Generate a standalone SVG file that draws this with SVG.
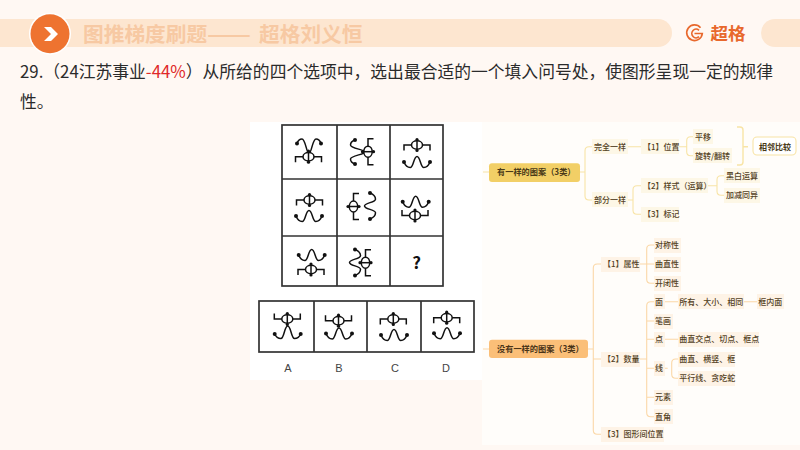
<svg xmlns="http://www.w3.org/2000/svg" xmlns:xlink="http://www.w3.org/1999/xlink" width="800" height="450" viewBox="0 0 800 450">
<style>
text{font-family:"Noto Sans CJK SC","Noto Sans",sans-serif}
.q{font-size:16.8px;fill:#2b2b2b}
.t{font-size:8px;fill:#54421f;font-weight:500}
.y{fill:#fdf7e6}
.o{fill:#fef3e6}
.cy{fill:none;stroke:#f8e4a6;stroke-width:1.1}
.co{fill:none;stroke:#fbd8a8;stroke-width:1.1}
.grid{fill:#fff;stroke:#333;stroke-width:1.7}
.m{fill:none;stroke:#111;stroke-width:1.5}
.d{fill:#111}
.lab{font-family:"Liberation Sans",sans-serif;font-size:11px;fill:#444;text-anchor:middle}
</style>
<defs>
<g id="bracket"><path class="m" d="M-13,5.5V0H13V5.5"/><ellipse cx="0" cy="0" rx="5.5" ry="4.2" fill="#fff" stroke="#111" stroke-width="1.5"/><path class="m" d="M0,-5.5V5.5"/><circle class="d" cx="0" cy="-5.5" r="1.6"/><circle class="d" cx="0" cy="5.5" r="1.6"/></g>
<g id="wave"><path class="m" d="M-13,0C-11.5,3.8-9.5,5.5-6.8,5.5C-3.4,5.5-3.4,-5.5 0,-5.5C3.4,-5.5 3.4,5.5 6.8,5.5C9.5,5.5 11.5,3.8 13,0"/><circle class="d" cx="-13" cy="0" r="2"/><circle class="d" cx="13" cy="0" r="2"/></g>
<g id="wavex"><path class="m" d="M-12,0C-11,-3-9,-4.5-7,-4.5C-3.5,-4.5-2.5,10 0,10C2.5,10 3.5,-4.5 7,-4.5C9,-4.5 11,-3 12,0"/><circle class="d" cx="-12" cy="0" r="2"/><circle class="d" cx="12" cy="0" r="2"/></g>
<g id="wavetall"><path class="m" d="M-13,0C-11.5,3.5-9.5,4.5-6.8,4.5C-3.4,4.5-3.4,-8 0,-8C3.4,-8 3.4,4.5 6.8,4.5C9.5,4.5 11.5,3.5 13,0"/><circle class="d" cx="-13" cy="0" r="2"/><circle class="d" cx="13" cy="0" r="2"/></g>
</defs>
<rect width="800" height="450" fill="#fff8f3"/>

<g id="header">
<path d="M0,19H658a14,14 0 0 1 0,28H0Z" fill="#fde6d0"/>
<path d="M800,19H775a14,14 0 0 0 0,28H800Z" fill="#fde6d0"/>
<circle cx="50" cy="33.7" r="21" fill="#fff"/>
<circle cx="50" cy="33.7" r="19.5" fill="#ee7330"/>
<path d="M44,27H51L58,34L51,41H44L51,34Z" fill="#fff"/>
<text x="83" y="42" font-size="20.7" font-weight="700" fill="#f7c9a3">图推梯度刷题</text>
<text x="207" y="42" font-size="20.7" font-weight="700" fill="#f7c9a3" textLength="44" lengthAdjust="spacingAndGlyphs">——</text>
<text x="259" y="42" font-size="20.7" font-weight="700" fill="#f7c9a3">超格刘义恒</text>
</g>
<g id="logo">
<path d="M700.5,27.7A7.8,7.8 0 1 0 702.3,33.5H694.5M699,30.3A4.3,4.3 0 1 0 699,36.7" fill="none" stroke="#e8682c" stroke-width="1.7"/>
<text x="710.5" y="40" font-size="17.5" font-weight="700" fill="#e8682c">超格</text>
</g>
<g id="question">
<text class="q" x="20" y="78">29.（24江苏事业<tspan fill="#e02828">-44%</tspan>）从所给的四个选项中，选出最合适的一个填入问号处，使图形呈现一定的规律</text>
<text class="q" x="20" y="108">性。</text>
</g>

<rect x="250" y="122" width="232" height="258" fill="#fff"/>
<rect x="482" y="122" width="318" height="323" fill="#fffdfa"/>

<g id="matrix">
<rect class="grid" x="282" y="125" width="161" height="161"/>
<path class="grid" d="M337,125V286M390,125V286M282,179H443M282,236H443"/>
<g id="m1"><use xlink:href="#wavex" href="#wavex" transform="translate(309,143.5)"/><use href="#bracket" xlink:href="#bracket" transform="translate(308.5,156.7)"/></g>
<g id="m2"><use href="#wavex" xlink:href="#wavex" transform="translate(355,152) rotate(-90)"/><use href="#bracket" xlink:href="#bracket" transform="translate(368,151.7) rotate(-90)"/></g>
<g id="m3"><use href="#bracket" xlink:href="#bracket" transform="translate(417,145)"/><use href="#wave" xlink:href="#wave" transform="translate(417,162)"/></g>
<g id="m4"><use href="#bracket" xlink:href="#bracket" transform="translate(309.5,200)"/><use href="#wave" xlink:href="#wave" transform="translate(309,216)"/></g>
<g id="m5"><use href="#bracket" xlink:href="#bracket" transform="translate(353.5,206.5) rotate(-90)"/><use href="#wave" xlink:href="#wave" transform="translate(370,206) rotate(-90)"/></g>
<g id="m6"><use href="#wave" xlink:href="#wave" transform="translate(415.7,201.7)"/><use href="#bracket" xlink:href="#bracket" transform="translate(415,215.5) rotate(180)"/></g>
<g id="m7"><use href="#wave" xlink:href="#wave" transform="translate(311.7,255)"/><use href="#bracket" xlink:href="#bracket" transform="translate(311,269.5)"/></g>
<g id="m8"><use href="#wave" xlink:href="#wave" transform="translate(355,262.5) rotate(-90)"/><use href="#bracket" xlink:href="#bracket" transform="translate(365.5,262.7) rotate(-90)"/></g>
<text x="416.7" y="269" font-family="Liberation Sans" font-size="17" font-weight="700" fill="#111" text-anchor="middle">?</text>
</g>

<g id="options">
<rect class="grid" x="259" y="301" width="215" height="51"/>
<path class="grid" d="M314,301V352M367,301V352M421,301V352"/>
<g id="optA"><use href="#wavetall" xlink:href="#wavetall" transform="translate(287.7,334)"/><use href="#bracket" xlink:href="#bracket" transform="translate(287.3,319) rotate(180)"/></g>
<g id="optB"><use href="#bracket" xlink:href="#bracket" transform="translate(338.5,320.7) rotate(180)"/><use href="#wave" xlink:href="#wave" transform="translate(339,333.5)"/></g>
<g id="optC"><use href="#bracket" xlink:href="#bracket" transform="translate(393.3,319)"/><use href="#wave" xlink:href="#wave" transform="translate(394,335)"/></g>
<g id="optD"><use href="#bracket" xlink:href="#bracket" transform="translate(446.7,317.7)"/><use href="#wave" xlink:href="#wave" transform="translate(447,333.3)"/></g>
<text class="lab" x="288" y="372">A</text><text class="lab" x="339" y="372">B</text><text class="lab" x="395" y="372">C</text><text class="lab" x="446" y="372">D</text>
</g>

<g id="connectors">
<path class="cy" d="M483,172H489M580,172H585M594,146.7H589Q585,146.7 585,150.7V196Q585,200 589,200H594M627,146.7H643M627,200H633M643,185.7H637Q633,185.7 633,189.7V210.3Q633,214.3 637,214.3H643M679,146.7H686.7M695,136.7H690.7Q686.7,136.7 686.7,140.7V151.7Q686.7,155.7 690.7,155.7H695M708,185.7H717M726,175.7H721Q717,175.7 717,179.7V191.3Q717,195.3 721,195.3H726"/>
<path class="cy" style="stroke-width:1.4" d="M737,127H740Q743,127 743,130V162Q743,165 740,165H737M743,146.7H748"/>
<path class="co" d="M483,349H489M588,349H593.3M602,264H597.3Q593.3,264 593.3,268V430.3Q593.3,434.3 597.3,434.3H602M593.3,359H602M640,264H646.7M655,245H650.7Q646.7,245 646.7,249V279.3Q646.7,283.3 650.7,283.3H655M646.7,264H655M640,359H646.7M655,301.7H650.7Q646.7,301.7 646.7,305.7V412.7Q646.7,416.7 650.7,416.7H655M646.7,321H655M646.7,339.3H655M646.7,368.3H655M646.7,397.3H655M664,301.7H679M744,301.7H757M664,339.3H679M664,368.3H667.7M679,359H675.7Q671.7,359 671.7,363V374.3Q671.7,378.3 675.7,378.3H679"/>
</g>

<g id="n-same"><rect x="489" y="163.3" width="91" height="18.7" rx="3" fill="#f2cf66"/><text x="497" y="175" font-size="8.2" font-weight="700" fill="#4a3a18">有一样的图案（3类）</text></g>
<g id="n-a1"><rect class="y" x="592" y="139" width="36" height="15"/><text class="t" x="594" y="149.7">完全一样</text></g>
<g id="n-a2"><rect class="y" x="592" y="192" width="36" height="15"/><text class="t" x="594" y="203">部分一样</text></g>
<g id="n-a3"><rect class="y" x="641" y="139" width="38" height="15"/><text class="t" x="643" y="149.7">【1】位置</text></g>
<g id="n-a4"><rect class="y" x="693" y="129" width="20" height="15"/><text class="t" x="695" y="139.7">平移</text></g>
<g id="n-a5"><rect class="y" x="693" y="148" width="39" height="15"/><text class="t" x="695" y="158.7">旋转/翻转</text></g>
<g id="n-a6"><rect x="753" y="137" width="43" height="18" rx="4" fill="#fff" stroke="#f8e4a6" stroke-width="1.1"/><text x="759" y="149.5" font-size="8" font-weight="700" fill="#4a3a18">相邻比较</text></g>
<g id="n-a7"><rect class="y" x="641" y="178" width="67" height="15"/><text class="t" x="643" y="188.7">【2】样式（运算）</text></g>
<g id="n-a8"><rect class="y" x="641" y="207" width="38" height="15"/><text class="t" x="643" y="217.3">【3】标记</text></g>
<g id="n-a9"><rect class="y" x="724" y="168" width="36" height="15"/><text class="t" x="726" y="178.7">黑白运算</text></g>
<g id="n-a10"><rect class="y" x="724" y="188" width="36" height="15"/><text class="t" x="726" y="198.3">加减同异</text></g>

<g id="n-none"><rect x="489" y="339.7" width="99" height="18.3" rx="3" fill="#fbbf78"/><text x="497" y="352" font-size="8.2" font-weight="700" fill="#4a3418">没有一样的图案（3类）</text></g>
<g id="n-b1"><rect class="o" x="601" y="257" width="39" height="15"/><text class="t" x="603" y="267">【1】属性</text></g>
<g id="n-b2"><rect class="o" x="601" y="352" width="39" height="15"/><text class="t" x="603" y="362">【2】数量</text></g>
<g id="n-b3"><rect class="o" x="601" y="427" width="63" height="15"/><text class="t" x="603" y="437.3">【3】图形间位置</text></g>
<g id="n-c1"><rect class="o" x="654" y="238" width="27" height="15"/><text class="t" x="655" y="248">对称性</text></g>
<g id="n-c2"><rect class="o" x="654" y="257" width="27" height="15"/><text class="t" x="655" y="267">曲直性</text></g>
<g id="n-c3"><rect class="o" x="654" y="276" width="27" height="15"/><text class="t" x="655" y="286.3">开闭性</text></g>
<g id="n-d1"><rect class="o" x="654" y="294" width="11" height="15"/><text class="t" x="655" y="304.7">面</text></g>
<g id="n-d2"><rect class="o" x="654" y="314" width="19" height="15"/><text class="t" x="655" y="324">笔画</text></g>
<g id="n-d3"><rect class="o" x="654" y="332" width="11" height="15"/><text class="t" x="655" y="342.3">点</text></g>
<g id="n-d4"><rect class="o" x="654" y="361" width="11" height="15"/><text class="t" x="655" y="371.3">线</text></g>
<g id="n-d5"><rect class="o" x="654" y="390" width="19" height="15"/><text class="t" x="655" y="400.3">元素</text></g>
<g id="n-d6"><rect class="o" x="654" y="409" width="19" height="15"/><text class="t" x="655" y="419.7">直角</text></g>
<g id="n-e1"><rect class="o" x="678" y="294" width="66" height="15"/><text class="t" x="679.3" y="304.7">所有、大小、相同</text></g>
<g id="n-e2"><rect class="o" x="757" y="294" width="27" height="15"/><text class="t" x="758.3" y="304.7">框内面</text></g>
<g id="n-e3"><rect class="o" x="678" y="332" width="81" height="15"/><text class="t" x="679.3" y="342.3">曲直交点、切点、框点</text></g>
<g id="n-e4"><rect class="o" x="678" y="352" width="57" height="15"/><text class="t" x="679.3" y="362">曲直、横竖、框</text></g>
<g id="n-e5"><rect class="o" x="678" y="371" width="57" height="15"/><text class="t" x="679.3" y="381.3">平行线、贪吃蛇</text></g>
</svg>
